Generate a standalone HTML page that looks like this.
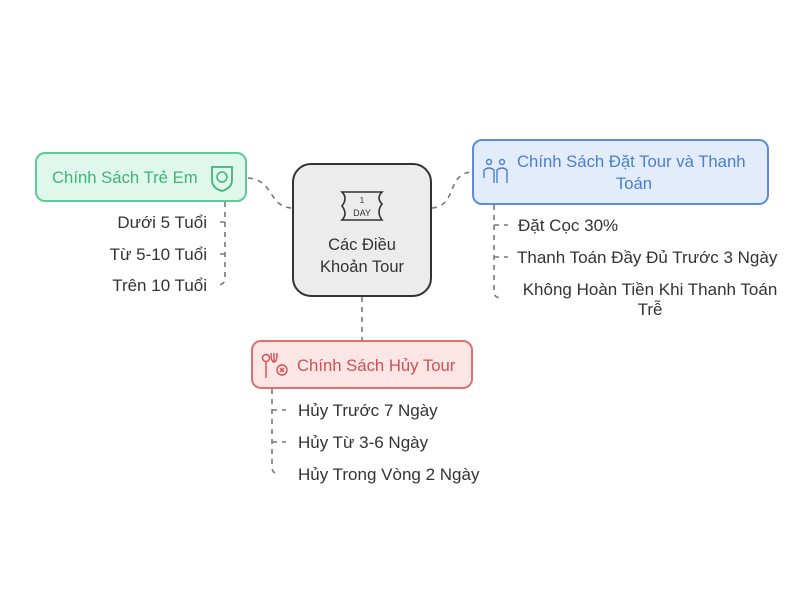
<!DOCTYPE html>
<html><head><meta charset="utf-8"><style>
html,body{margin:0;padding:0;background:#fff;}
svg text{font-family:"Liberation Sans",sans-serif;}
</style></head><body>
<svg width="800" height="600" viewBox="0 0 800 600" xmlns="http://www.w3.org/2000/svg">
<g fill="none" stroke="#777" stroke-width="1.6" stroke-dasharray="5,5">
<path d="M248,178 C275,180 268,208 293,208"/>
<path d="M432,208 C458,206 446,172 473,172"/>
<path d="M362,297 L362,341"/>
<path d="M225,202 L225,278 Q225,285 217,285"/>
<path d="M225,222 L216,222 M225,254 L216,254"/>
<path d="M494,205 L494,292 Q494,298 502,298"/>
<path d="M494,225 L508,225 M494,257 L508,257"/>
<path d="M272,389 L272,467 Q272,474 280,474"/>
<path d="M272,410 L286,410 M272,442 L286,442"/>
</g>
<rect x="293" y="164" width="138" height="132" rx="18" fill="#ececec" stroke="#333" stroke-width="2"/>
<g fill="none" stroke="#333" stroke-width="1.6">
<path d="M342,192 L382,192 Q376,198 382,204 Q376,212 382,220 L342,220 Q348,214 342,206 Q348,198 342,192 Z"/>
</g>
<text x="362" y="203" font-size="8" text-anchor="middle" fill="#333">1</text>
<text x="362" y="216" font-size="9" text-anchor="middle" fill="#333">DAY</text>
<text x="362" y="250" font-size="16.5" text-anchor="middle" fill="#333">Các Điều</text>
<text x="362" y="272" font-size="16.5" text-anchor="middle" fill="#333">Khoản Tour</text>

<rect x="36" y="153" width="210" height="48" rx="9" fill="#e0f7ec" stroke="#5ecb94" stroke-width="2"/>
<text x="52" y="183" font-size="16.7" fill="#3fb37a">Chính Sách Trẻ Em</text>
<path d="M212,167 L232,167 L232,180 Q232,188 222,191 Q212,188 212,180 Z" fill="none" stroke="#3fb37a" stroke-width="1.8"/>
<circle cx="222" cy="177" r="5" fill="none" stroke="#3fb37a" stroke-width="1.5"/>

<rect x="473" y="140" width="295" height="64" rx="9" fill="#e3ecfb" stroke="#5b8ed8" stroke-width="2"/>
<text x="517" y="167" font-size="16.7" fill="#4a7fd0">Chính Sách Đặt Tour và Thanh</text>
<text x="634" y="189" font-size="16.7" text-anchor="middle" fill="#4a7fd0">Toán</text>
<g fill="none" stroke="#4a7fd0" stroke-width="1.4">
<circle cx="489" cy="162" r="2.5"/><circle cx="502" cy="162" r="2.5"/>
<path d="M484,178 L484,170 Q489,166 494,170 L494,183 M497,183 L497,170 Q502,166 507,170 L507,183"/>
</g>

<rect x="252" y="341" width="220" height="47" rx="9" fill="#fbe5e5" stroke="#e07070" stroke-width="2"/>
<text x="297" y="371" font-size="16.7" fill="#d05050">Chính Sách Hủy Tour</text>
<g fill="none" stroke="#d05050" stroke-width="1.4">
<circle cx="266" cy="358" r="3.5"/><path d="M266,362 L266,378 M274,353 L274,362 M271,353 Q271,362 274,362 Q277,362 277,353"/>
<circle cx="282" cy="370" r="5"/><path d="M280,368 L284,372 M284,368 L280,372"/>
</g>

<g font-size="17" fill="#333">
<text x="207" y="228" text-anchor="end">Dưới 5 Tuổi</text>
<text x="207" y="260" text-anchor="end">Từ 5-10 Tuổi</text>
<text x="207" y="291" text-anchor="end">Trên 10 Tuổi</text>
<text x="518" y="231">Đặt Cọc 30%</text>
<text x="517" y="263">Thanh Toán Đầy Đủ Trước 3 Ngày</text>
<text x="650" y="295" text-anchor="middle">Không Hoàn Tiền Khi Thanh Toán</text>
<text x="650" y="315" text-anchor="middle">Trễ</text>
<text x="298" y="416">Hủy Trước 7 Ngày</text>
<text x="298" y="448">Hủy Từ 3-6 Ngày</text>
<text x="298" y="480">Hủy Trong Vòng 2 Ngày</text>
</g>
</svg>
</body></html>
